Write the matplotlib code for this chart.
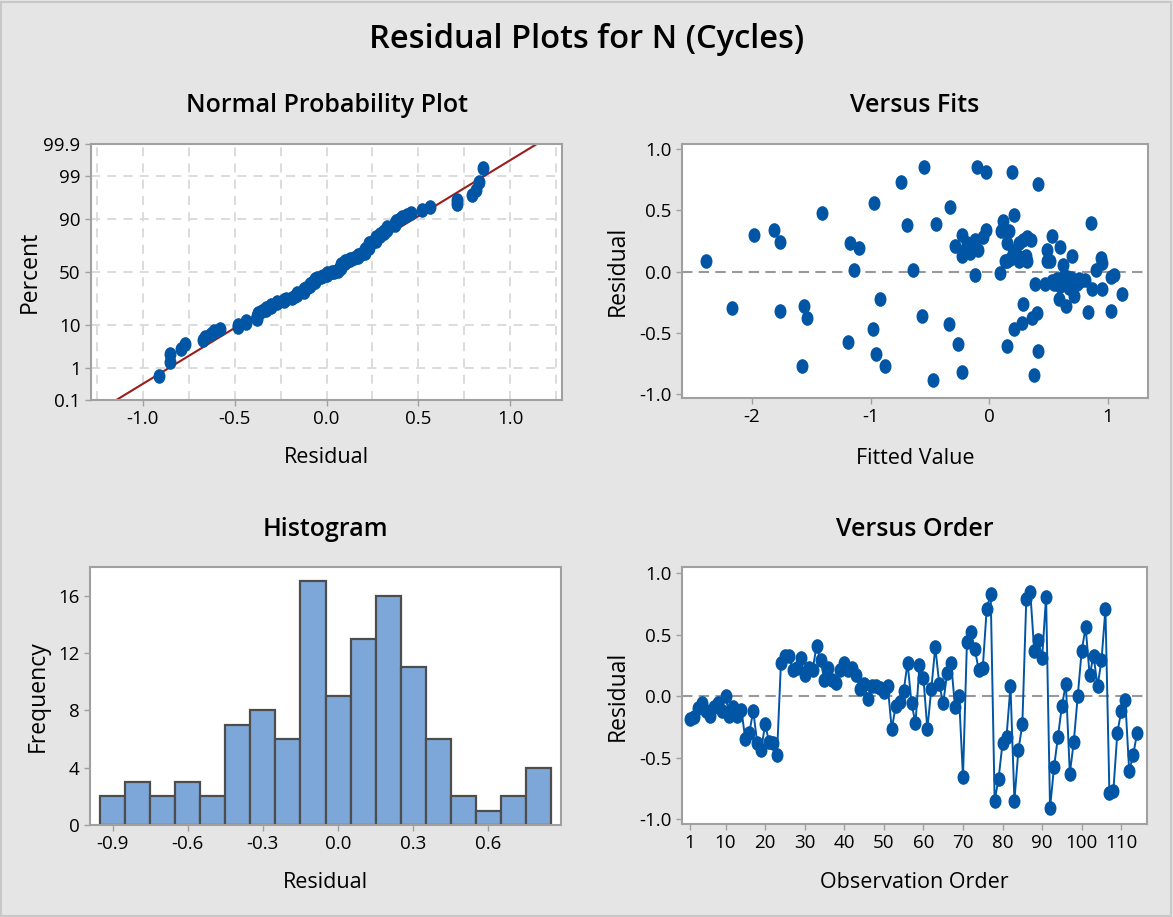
import numpy as np
import matplotlib
matplotlib.use("Agg")
import matplotlib.pyplot as plt
from matplotlib.path import Path
from matplotlib.transforms import Affine2D
from matplotlib.patches import Rectangle
from statistics import NormalDist

plt.rcParams['font.family'] = ['Open Sans', 'DejaVu Sans']
plt.rcParams['axes.unicode_minus'] = False

# residuals in observation order
residuals = [-0.19, -0.17, -0.10, -0.06, -0.12, -0.16, -0.09, -0.06, -0.12, 0.00,
             -0.16, -0.09, -0.16, -0.11, -0.35, -0.30, -0.12, -0.38, -0.44, -0.23,
             -0.37, -0.38, -0.48, 0.27, 0.33, 0.33, 0.21, 0.23, 0.31, 0.17,
             0.23, 0.21, 0.41, 0.29, 0.13, 0.23, 0.13, 0.11, 0.21, 0.27,
             0.21, 0.23, 0.17, 0.06, 0.10, -0.02, 0.08, 0.08, 0.07, 0.03,
             0.08, -0.27, -0.08, -0.05, 0.04, 0.27, -0.06, -0.22, 0.25, 0.15,
             -0.27, 0.06, 0.40, 0.10, -0.06, 0.19, 0.27, -0.09, 0.00, -0.66,
             0.44, 0.52, 0.38, 0.21, 0.23, 0.71, 0.83, -0.85, -0.67, -0.38,
             -0.33, 0.08, -0.85, -0.44, -0.23, 0.79, 0.85, 0.37, 0.46, 0.31,
             0.81, -0.91, -0.58, -0.33, -0.08, 0.10, -0.63, -0.37, 0.00, 0.37,
             0.56, 0.17, 0.33, 0.08, 0.29, 0.71, -0.79, -0.77, -0.30, -0.12,
             -0.03, -0.61, -0.48, -0.30]
order = np.arange(1, len(residuals) + 1)

# versus fits panel (fitted value, residual)
fitted = [-2.39, -2.17, -1.98, -1.81, -1.76, -1.76, -1.56, -1.54, -1.58, -1.41,
          -1.17, -1.10, -1.14, -1.19, -0.97, -0.92, -0.98, -0.95, -0.88, -0.74,
          -0.69, -0.64, -0.55, -0.57, -0.45, -0.47, -0.34, -0.33, -0.26, -0.23,
          -0.29, -0.23, -0.23, -0.19, -0.16, -0.12, -0.09, -0.05, -0.03, -0.12,
          -0.10, -0.03, 0.09, 0.10, 0.12, 0.17, 0.21, 0.19, 0.15, 0.18,
          0.20, 0.22, 0.25, 0.29, 0.32, 0.35, 0.25, 0.29, 0.32, 0.15,
          0.41, 0.29, 0.21, 0.28, 0.36, 0.40, 0.15, 0.41, 0.38, 0.39,
          0.47, 0.49, 0.51, 0.49, 0.53, 0.60, 0.55, 0.59, 0.62, 0.62,
          0.65, 0.68, 0.70, 0.74, 0.72, 0.77, 0.81, 0.59, 0.65, 0.83,
          0.87, 0.95, 0.90, 0.94, 0.95, 1.03, 1.05, 1.03, 1.12, 0.86,
          0.65, 0.69, 0.57, 0.63, 0.66, 0.71, 0.60, 0.67, 0.76, 0.53,
          0.25, 0.31, -0.21, 0.13]
fit_resid = [0.09, -0.30, 0.30, 0.34, 0.24, -0.32, -0.28, -0.38, -0.77, 0.48,
             0.23, 0.19, 0.01, -0.57, 0.56, -0.22, -0.47, -0.67, -0.77, 0.73,
             0.38, 0.01, 0.85, -0.36, 0.39, -0.88, -0.43, 0.53, -0.59, -0.82,
             0.21, 0.30, 0.13, 0.23, 0.15, 0.26, 0.18, 0.28, 0.34, -0.03,
             0.85, 0.81, -0.01, 0.33, 0.41, 0.33, 0.46, 0.81, 0.23, 0.10,
             0.15, 0.18, 0.23, 0.26, 0.28, 0.26, 0.09, 0.11, 0.09, 0.09,
             0.71, -0.26, -0.47, -0.42, -0.38, -0.34, -0.61, -0.65, -0.84, -0.10,
             -0.10, 0.09, 0.09, 0.18, 0.29, 0.20, -0.10, -0.07, 0.05, -0.04,
             -0.08, -0.12, 0.13, -0.10, -0.20, -0.08, -0.07, -0.22, -0.28, -0.33,
             -0.14, -0.14, 0.01, 0.11, 0.07, -0.04, -0.03, -0.32, -0.18, 0.40,
             -0.04, -0.05, -0.06, -0.10, -0.04, -0.09, -0.12, -0.13, -0.06, -0.08,
             0.12, 0.13, 0.17, 0.09]

# histogram bins
bin_centers = [-0.9, -0.8, -0.7, -0.6, -0.5, -0.4, -0.3, -0.2, -0.1,
               0.0, 0.1, 0.2, 0.3, 0.4, 0.5, 0.6, 0.7, 0.8]
bin_counts = [2, 3, 2, 3, 2, 7, 8, 6, 17, 9, 13, 16, 11, 6, 2, 1, 2, 4]

pct_ticks = [0.1, 1, 10, 50, 90, 99, 99.9]
pct_labels = ['0.1', '1', '10', '50', '90', '99', '99.9']

BG = '#e5e5e5'
BLUE = '#0055a5'
SPINE = '#a0a0a0'
ell = Path.unit_circle().transformed(Affine2D().scale(0.8, 1.0))

nd = NormalDist()
def p_fwd(p):
    p = np.clip(np.asarray(p, dtype=float), 1e-6, 100 - 1e-6)
    return np.vectorize(lambda v: nd.inv_cdf(v / 100.0), otypes=[float])(p)

def p_inv(z):
    return np.vectorize(lambda v: nd.cdf(v) * 100.0, otypes=[float])(np.asarray(z, dtype=float))


def style(ax):
    ax.set_facecolor('white')
    for s in ax.spines.values():
        s.set_color(SPINE)
        s.set_linewidth(1.5)
    ax.tick_params(colors=SPINE, labelcolor='black', labelsize=13.5, length=4, width=1)


W, H = 1173, 917
fig = plt.figure(figsize=(W / 100, H / 100), dpi=100, facecolor=BG)
fig.add_artist(Rectangle((0.001, 0.001), 0.997, 0.997, transform=fig.transFigure,
                         fill=False, ec='#c8c8c8', lw=1.5))

def box(l, t, r, b):
    return [l / W, 1 - b / H, (r - l) / W, (b - t) / H]

ax1 = fig.add_axes(box(91, 144, 562, 400))
ax2 = fig.add_axes(box(682, 144, 1148, 398))
ax3 = fig.add_axes(box(90, 567, 561, 825))
ax4 = fig.add_axes(box(682, 567, 1147, 824))

TK = dict(ha='center', va='center', fontsize=18, fontweight='semibold')
LB = dict(fontsize=15.5)
VL = dict(fontsize=16.5)
fig.text(0.5, 1 - 40 / H, 'Residual Plots for N (Cycles)', ha='center', va='center',
         fontsize=23.5, fontweight='semibold')

# Normal probability plot
style(ax1)
ax1.set_yscale('function', functions=(p_fwd, p_inv))
r_sorted = np.sort(residuals)
n = len(r_sorted)
pct = (np.arange(1, n + 1) - 0.3) / (n + 0.4) * 100
mu, sd = np.mean(residuals), np.std(residuals, ddof=1)
line_p = np.array([0.1, 99.9])
line_x = mu + sd * p_fwd(line_p)
ax1.plot(line_x, line_p, color='#9b1c1c', lw=1.5, zorder=2)
ax1.plot(r_sorted, pct, ls='none', marker=ell, ms=9.5, color=BLUE, zorder=3)
ax1.set_xlim(-1.28, 1.28)
ax1.set_ylim(0.1, 99.9)
ax1.set_yticks(pct_ticks)
ax1.set_yticklabels(pct_labels)
ax1.set_xticks([-1.0, -0.5, 0.0, 0.5, 1.0])
ax1.set_xticklabels(['-1.0', '-0.5', '0.0', '0.5', '1.0'])
ax1.set_xticks(np.arange(-1.25, 1.26, 0.25), minor=True)
ax1.yaxis.set_minor_locator(matplotlib.ticker.NullLocator())
ax1.tick_params(which='minor', length=0)
ax1.grid(which='both', axis='x', color='#d9d9d9', ls=(0, (5, 4)), lw=1.3)
ax1.grid(which='major', axis='y', color='#d9d9d9', ls=(0, (5, 4)), lw=1.3)
ax1.set_axisbelow(True)
ax1.set_ylabel('Percent', **VL)
ax1.set_xlabel('Residual', **LB)
fig.text((91 + 562) / 2 / W, 1 - 105 / H, 'Normal Probability Plot', **TK)

# Versus fits
style(ax2)
ax2.axhline(0, color='#999999', ls=(0, (5, 3)), lw=1.5, zorder=1)
ax2.plot(fitted, fit_resid, ls='none', marker=ell, ms=9.5, color=BLUE, zorder=3)
ax2.set_xlim(-2.59, 1.34)
ax2.set_ylim(-1.03, 1.04)
ax2.set_xticks([-2, -1, 0, 1])
ax2.set_yticks([-1.0, -0.5, 0.0, 0.5, 1.0])
ax2.set_yticklabels(['-1.0', '-0.5', '0.0', '0.5', '1.0'])
ax2.set_ylabel('Residual', **VL)
ax2.set_xlabel('Fitted Value', **LB)
fig.text((682 + 1148) / 2 / W, 1 - 105 / H, 'Versus Fits', **TK)

# Histogram
style(ax3)
ax3.bar(bin_centers, bin_counts, width=0.1, color='#7ea7d9', edgecolor='#4d4d4d', linewidth=1.6)
ax3.set_xlim(-0.99, 0.89)
ax3.set_ylim(0, 18)
ax3.set_xticks([-0.9, -0.6, -0.3, 0.0, 0.3, 0.6])
ax3.set_xticklabels(['-0.9', '-0.6', '-0.3', '0.0', '0.3', '0.6'])
ax3.set_yticks([0, 4, 8, 12, 16])
ax3.set_ylabel('Frequency', **VL)
ax3.set_xlabel('Residual', **LB)
fig.text((90 + 561) / 2 / W, 1 - 530 / H, 'Histogram', **TK)

# Versus order
style(ax4)
ax4.axhline(0, color='#999999', ls=(0, (5, 3)), lw=1.5, zorder=1)
ax4.plot(order, residuals, color=BLUE, lw=1.4, marker=ell, ms=9.5, zorder=3)
ax4.set_xlim(-1, 116.5)
ax4.set_ylim(-1.04, 1.05)
ax4.set_xticks([1, 10, 20, 30, 40, 50, 60, 70, 80, 90, 100, 110])
ax4.set_yticks([-1.0, -0.5, 0.0, 0.5, 1.0])
ax4.set_yticklabels(['-1.0', '-0.5', '0.0', '0.5', '1.0'])
ax4.set_ylabel('Residual', **VL)
ax4.set_xlabel('Observation Order', **LB)
fig.text((682 + 1147) / 2 / W, 1 - 530 / H, 'Versus Order', **TK)

# label positions (axes fraction)
for ax, lx in [(ax1, 30), (ax2, 618), (ax3, 38), (ax4, 618)]:
    bb = ax.get_position()
    ax.yaxis.set_label_coords((lx / W - bb.x0) / bb.width, 0.5)
    ax.yaxis.label.set_va('center')
for ax, ly in [(ax1, 458), (ax2, 458), (ax3, 883), (ax4, 883)]:
    bb = ax.get_position()
    ax.xaxis.set_label_coords(0.5, ((1 - ly / H) - bb.y0) / bb.height)
    ax.xaxis.label.set_va('center')

fig.savefig('out.png', dpi=100, facecolor=BG)
